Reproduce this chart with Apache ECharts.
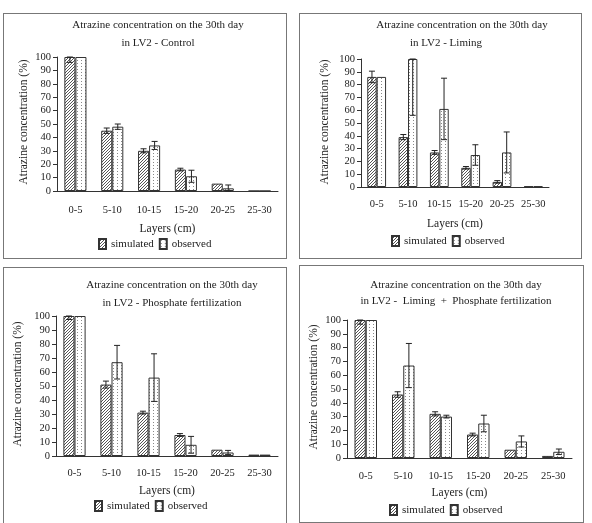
<!DOCTYPE html>
<html>
<head>
<meta charset="utf-8">
<script src="https://cdn.jsdelivr.net/npm/echarts@6/dist/echarts.min.js"></script>
<style>
  html, body { margin: 0; padding: 0; background: #fff; overflow: hidden; }
  body { width: 592px; height: 523px; position: relative; }
  .panel { position: absolute; border: 1px solid #777; box-sizing: border-box; background: #fff; }
</style>
</head>
<body>
<div id="p1" class="panel" style="left:3px;top:13px;width:284px;height:246px"></div>
<div id="p2" class="panel" style="left:299px;top:13px;width:283px;height:246px"></div>
<div id="p3" class="panel" style="left:3px;top:267px;width:284px;height:270px"></div>
<div id="p4" class="panel" style="left:299px;top:265px;width:285px;height:258px"></div>
<script>
// data
const layers = ['0-5', '5-10', '10-15', '15-20', '20-25', '25-30']
const yTicks = [0, 10, 20, 30, 40, 50, 60, 70, 80, 90, 100]

const controlSim = [100, 45, 30, 16, 5.5, 0]
const controlSimErr = [4, 2, 1.5, 1, 0, 0]
const controlObs = [100, 48, 34, 11, 2, 0]
const controlObsErr = [0, 2, 3, 4.5, 2.5, 0]

const limingSim = [86, 39, 27, 15, 4, 0.5]
const limingSimErr = [4.5, 2, 1.5, 1, 1, 0]
const limingObs = [86, 100, 61, 25, 27, 0.5]
const limingObsErr = [0, 44, 24, 8, 16, 0]

const phosSim = [100, 51, 31, 15, 4.5, 1]
const phosSimErr = [2.5, 2.5, 1, 1, 0, 0]
const phosObs = [100, 67, 56, 8, 2.5, 1]
const phosObsErr = [0, 12, 17, 6, 1.5, 0]

const lpSim = [100, 46, 32, 17, 6, 1.5]
const lpSimErr = [3, 2, 1.5, 1, 0, 0]
const lpObs = [100, 67, 30, 25, 12, 4.5]
const lpObsErr = [0, 16, 1, 6, 4, 2]

const font = 'Liberation Serif'

// fill patterns: dense diagonal hatch and columns of small dots
function makePattern(kind) {
  const c = document.createElement('canvas')
  const ctx = c.getContext('2d')
  if (kind === 'hatch') {
    c.width = 3; c.height = 3
    ctx.fillStyle = '#fff'
    ctx.fillRect(0, 0, 3, 3)
    ctx.fillStyle = '#555'
    ctx.fillRect(2, 0, 1, 1)
    ctx.fillRect(1, 1, 1, 1)
    ctx.fillRect(0, 2, 1, 1)
  } else {
    c.width = 4; c.height = 3
    ctx.fillStyle = '#fff'
    ctx.fillRect(0, 0, 4, 3)
    ctx.fillStyle = '#888'
    ctx.fillRect(1, 1, 1, 1)
  }
  return { image: c, repeat: 'repeat' }
}
const hatch = makePattern('hatch')
const dots = makePattern('dots')

function errorSeries(vals, errs, offset) {
  return {
    type: 'custom',
    silent: true,
    z: 5,
    data: vals.map((v, i) => [i, v, errs[i]]),
    encode: { x: 0, y: 1 },
    renderItem: function (params, api) {
      const i = api.value(0), v = api.value(1), e = api.value(2)
      if (!e) return null
      const band = api.size([1, 0])[0]
      const top = api.coord([i, Math.min(v + e, 100)])
      const bot = api.coord([i, Math.max(v - e, 0)])
      const x = top[0] + offset * band
      const cap = 3
      const st = { stroke: '#222', lineWidth: 1 }
      return {
        type: 'group',
        children: [
          { type: 'line', shape: { x1: x, y1: top[1], x2: x, y2: bot[1] }, style: st },
          { type: 'line', shape: { x1: x - cap, y1: top[1], x2: x + cap, y2: top[1] }, style: st },
          { type: 'line', shape: { x1: x - cap, y1: bot[1], x2: x + cap, y2: bot[1] }, style: st }
        ]
      }
    }
  }
}

function makeChart(id, cfg) {
  const chart = echarts.init(document.getElementById(id))
  const titleStyle = { fontFamily: font, fontSize: 11, fontWeight: 'normal', color: '#222' }
  chart.setOption({
    animation: false,
    textStyle: { fontFamily: font },
    title: [
      { text: 'Atrazine concentration on the 30th day', left: cfg.t1x, top: cfg.t1y, padding: 0, textAlign: 'center', textStyle: titleStyle },
      { text: cfg.sub, left: cfg.t2x, top: cfg.t2y, padding: 0, textAlign: 'center', textStyle: titleStyle }
    ],
    // y-axis name drawn as rotated text so it sits where the original has it
    graphic: [{
      type: 'text',
      x: cfg.yName[0], y: cfg.yName[1],
      rotation: Math.PI / 2,
      style: {
        text: 'Atrazine concentration (%)',
        font: '11.5px "' + font + '"',
        fill: '#222',
        align: 'center',
        verticalAlign: 'middle'
      }
    }],
    legend: {
      data: ['simulated', 'observed'],
      top: cfg.leg[1],
      left: cfg.leg[0],
      icon: 'rect',
      itemWidth: 7,
      itemHeight: 10,
      itemGap: 5,
      textStyle: { fontFamily: font, fontSize: 11, color: '#222' }
    },
    grid: cfg.grid,
    xAxis: {
      type: 'category',
      data: layers,
      name: 'Layers (cm)',
      nameLocation: 'middle',
      nameGap: cfg.xNameGap,
      nameTextStyle: { fontFamily: font, fontSize: 11.5, color: '#222' },
      axisLine: { lineStyle: { color: '#333' } },
      axisTick: { length: 4, lineStyle: { color: '#333' } },
      axisLabel: { interval: 0, margin: cfg.xLabMargin, fontFamily: font, fontSize: 10.5, color: '#222' }
    },
    yAxis: {
      type: 'value',
      min: yTicks[0],
      max: yTicks[yTicks.length - 1],
      interval: 10,
      axisLine: { show: true, lineStyle: { color: '#333' } },
      axisTick: { show: true, length: 4, lineStyle: { color: '#333' } },
      splitLine: { show: false },
      axisLabel: { margin: 6, fontFamily: font, fontSize: 10.5, color: '#222' }
    },
    series: [
      {
        name: 'simulated', type: 'bar', data: cfg.sim,
        barGap: '0%', barCategoryGap: '40%',
        itemStyle: { color: hatch, borderColor: '#333', borderWidth: 1 }
      },
      {
        name: 'observed', type: 'bar', data: cfg.obs,
        barGap: '0%', barCategoryGap: '40%',
        itemStyle: { color: dots, borderColor: '#333', borderWidth: 1 }
      },
      errorSeries(cfg.sim, cfg.simErr, -0.15),
      errorSeries(cfg.obs, cfg.obsErr, 0.15)
    ]
  })
  return chart
}

makeChart('p1', {
  sub: 'in LV2 - Control',
  sim: controlSim, simErr: controlSimErr, obs: controlObs, obsErr: controlObsErr,
  t1x: 154, t1y: 6, t2x: 154, t2y: 24,
  grid: { left: 53, right: 8, top: 43, bottom: 67 },
  xNameGap: 32, xLabMargin: 14, yName: [20, 108], leg: [89, 219]
})
makeChart('p2', {
  sub: 'in LV2 - Liming',
  sim: limingSim, simErr: limingSimErr, obs: limingObs, obsErr: limingObsErr,
  t1x: 162, t1y: 6, t2x: 146, t2y: 24,
  grid: { left: 61, right: 32, top: 45, bottom: 71 },
  xNameGap: 31, xLabMargin: 12, yName: [25, 108], leg: [86, 216]
})
makeChart('p3', {
  sub: 'in LV2 - Phosphate fertilization',
  sim: phosSim, simErr: phosSimErr, obs: phosObs, obsErr: phosObsErr,
  t1x: 168, t1y: 12, t2x: 168, t2y: 30,
  grid: { left: 52, right: 8, top: 48, bottom: 80 },
  xNameGap: 29, xLabMargin: 12, yName: [14, 116], leg: [85, 227]
})
makeChart('p4', {
  sub: 'in LV2 -  Liming  +  Phosphate fertilization',
  sim: lpSim, simErr: lpSimErr, obs: lpObs, obsErr: lpObsErr,
  t1x: 156, t1y: 14, t2x: 156, t2y: 30,
  grid: { left: 47, right: 11, top: 54, bottom: 64 },
  xNameGap: 28, xLabMargin: 13, yName: [14, 121], leg: [84, 233]
})
</script>
</body>
</html>
